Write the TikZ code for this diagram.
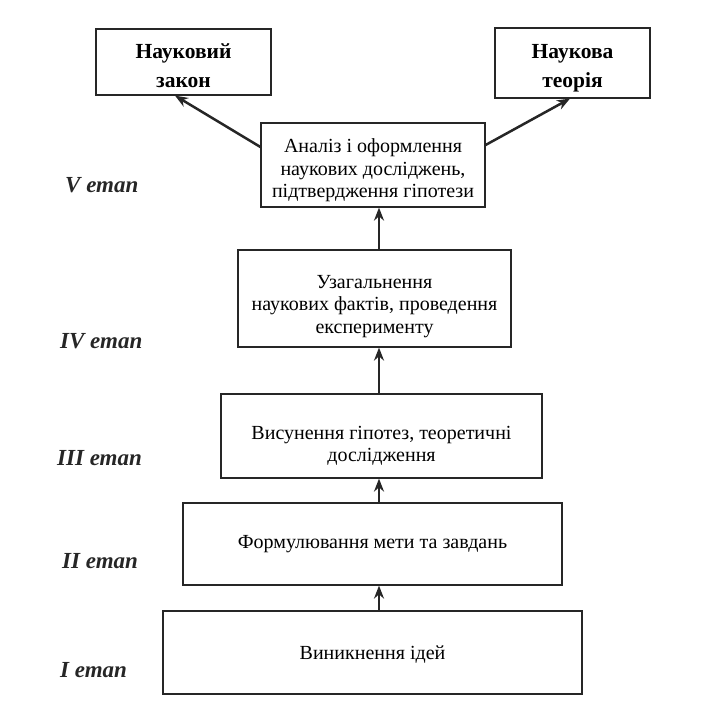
\documentclass[tikz,border=0pt]{standalone}
\usepackage{fontspec}
\setmainfont{Liberation Serif}
\usetikzlibrary{arrows.meta}
\tikzstyle{stage} = [rectangle, draw=black!85, line width=1.2pt, text centered, inner sep=0pt, font=\fontsize{20}{22.5}\selectfont]
\tikzstyle{result} = [rectangle, draw=black!85, line width=1.2pt, text centered, inner sep=0pt, font=\bfseries\fontsize{21.5}{29}\selectfont]
\tikzstyle{etap} = [anchor=base west, inner sep=0pt, text=black!85, font=\bfseries\itshape\fontsize{23}{26}\selectfont]
\tikzstyle{arrow} = [line width=2.5pt, draw=black!85, -{Stealth[length=13pt,width=10pt]}]
% text set a little below the middle of its box
\newcommand{\boxtext}[2]{\raisebox{\dimexpr-5pt-#1\relax}[0pt][0pt]{\begin{tabular}{@{}c@{}}#2\end{tabular}}}

\begin{document}
\begin{tikzpicture}[x=1pt,y=-1pt]
\useasboundingbox (0,0) rectangle (702,703);

% results
\node[result, minimum width=175pt, minimum height=66pt] (law) at (183.5,62) {\boxtext{5pt}{Науковий\\закон}};
\node[result, minimum width=155pt, minimum height=70pt] (theory) at (572.5,63) {\boxtext{4pt}{Наукова\\теорія}};

% stages
\node[stage, minimum width=224pt, minimum height=84pt] (analysis) at (373,165) {\boxtext{6pt}{Аналіз і оформлення\\наукових досліджень,\\підтвердження гіпотези}};
\node[stage, minimum width=273pt, minimum height=97pt] (stage4) at (374.5,298.5) {\boxtext{8pt}{Узагальнення\\наукових фактів, проведення\\експерименту}};
\node[stage, minimum width=321pt, minimum height=84pt] (stage3) at (381.5,436) {\boxtext{10pt}{Висунення гіпотез, теоретичні\\дослідження}};
\node[stage, minimum width=379pt, minimum height=82pt] (stage2) at (372.5,544) {\boxtext{0pt}{Формулювання мети та завдань}};
\node[stage, minimum width=419pt, minimum height=83pt] (stage1) at (372.5,652.5) {\boxtext{3pt}{Виникнення ідей}};

% stage labels
\node[etap] (lab5) at (65,193) {V етап};
\node[etap] (lab4) at (60,348) {IV етап};
\node[etap] (lab3) at (57,465) {III етап};
\node[etap] (lab2) at (62,568) {II етап};
\node[etap] (lab1) at (60,677) {I етап};

% arrows
\coordinate (axis) at (379,0);
\draw[arrow] (axis |- stage1.north) -- (axis |- stage2.south);
\draw[arrow] (axis |- stage2.north) -- (axis |- stage3.south);
\draw[arrow] (axis |- stage3.north) -- (axis |- stage4.south);
\draw[arrow] (axis |- stage4.north) -- (axis |- analysis.south);
\draw[arrow] ([yshift=18pt]analysis.west) -- ([xshift=-8.5pt]law.south);
\draw[arrow] ([yshift=20pt]analysis.east) -- ([xshift=-2.5pt]theory.south);
\end{tikzpicture}
\end{document}
